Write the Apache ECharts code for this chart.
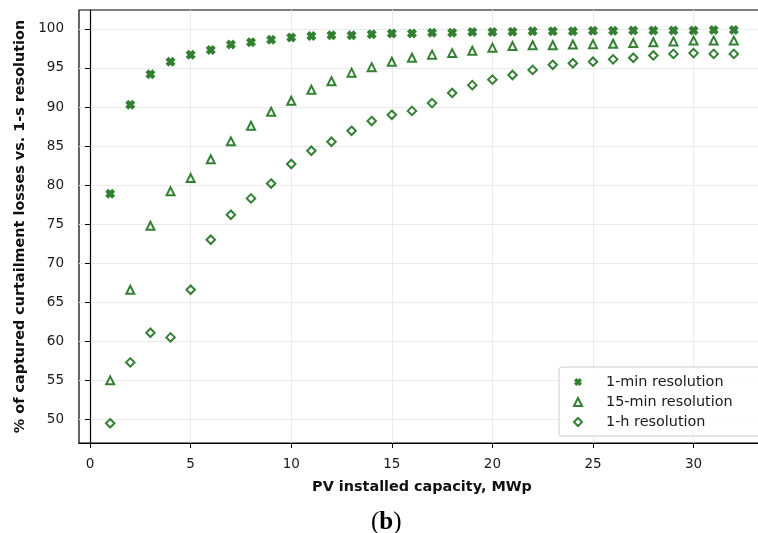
<!DOCTYPE html>
<html>
<head>
<meta charset="utf-8">
<script src="https://cdn.jsdelivr.net/npm/echarts@6/dist/echarts.min.js"></script>
<style>
  html, body { margin: 0; padding: 0; background: #fff; }
  #chart { width: 758px; height: 533px; }
</style>
</head>
<body>
<div id="chart"></div>
<script>
const capacity = [1, 2, 3, 4, 5, 6, 7, 8, 9, 10, 11, 12, 13, 14, 15, 16,
  17, 18, 19, 20, 21, 22, 23, 24, 25, 26, 27, 28, 29, 30, 31, 32]
const oneMin = [78.9, 90.3, 94.2, 95.8, 96.7, 97.3, 98.0, 98.3, 98.6, 98.9, 99.1, 99.2, 99.2, 99.3, 99.4, 99.4,
  99.5, 99.5, 99.6, 99.6, 99.65, 99.7, 99.7, 99.7, 99.75, 99.75, 99.8, 99.8, 99.8, 99.8, 99.85, 99.85]
const fifteenMin = [55.0, 66.6, 74.8, 79.2, 80.9, 83.3, 85.6, 87.6, 89.4, 90.8, 92.2, 93.3, 94.4, 95.1, 95.8, 96.3,
  96.7, 96.9, 97.2, 97.6, 97.8, 97.9, 97.9, 98.0, 98.05, 98.1, 98.2, 98.3, 98.4, 98.5, 98.5, 98.5]
const oneHour = [49.5, 57.3, 61.1, 60.5, 66.6, 73.0, 76.2, 78.3, 80.2, 82.7, 84.4, 85.55, 86.95, 88.2, 89.0, 89.5,
  90.5, 91.8, 92.8, 93.5, 94.1, 94.75, 95.4, 95.6, 95.8, 96.1, 96.3, 96.6, 96.8, 96.9, 96.8, 96.8]
const seriesNames = ['1-min resolution', '15-min resolution', '1-h resolution']
const xTicks = [0, 5, 10, 15, 20, 25, 30]
const yTicks = [50, 55, 60, 65, 70, 75, 80, 85, 90, 95, 100]

const green = '#006000'
const font = 'DejaVu Sans'
const xMark = 'path://M0,3L3,0L5,2L7,0L10,3L8,5L10,7L7,10L5,8L3,10L0,7L2,5Z'

const chart = echarts.init(document.getElementById('chart'), null, { renderer: 'canvas' })

const pairs = vals => capacity.map((c, i) => [c, vals[i]])

const axisCommon = {
  type: 'value',
  axisLine: { show: true, lineStyle: { color: '#000', width: 1.2 } },
  axisTick: { show: true, inside: false, length: 5, lineStyle: { color: '#000', width: 1 } },
  splitLine: { show: true, lineStyle: { color: '#ebebeb', width: 1 } },
  nameLocation: 'middle',
  nameTextStyle: { fontFamily: font, fontWeight: 'bold', fontSize: 14.4, color: '#111' }
}
const tickFont = { fontFamily: font, fontSize: 13.5, color: '#1a1a1a' }

chart.setOption({
  animation: false,
  backgroundColor: '#fff',
  grid: {
    left: 79, top: 10, width: 686, height: 433,
    outerBoundsMode: 'none',
    show: true, borderColor: '#000', borderWidth: 1.2, backgroundColor: '#fff'
  },
  xAxis: Object.assign({}, axisCommon, {
    min: -0.55,
    max: 33.55,
    name: 'PV installed capacity, MWp',
    nameGap: 37,
    axisTick: Object.assign({}, axisCommon.axisTick, { customValues: xTicks }),
    axisLabel: Object.assign({ customValues: xTicks, margin: 14 }, tickFont)
  }),
  yAxis: Object.assign({}, axisCommon, {
    min: 46.98,
    max: 102.42,
    name: '% of captured curtailment losses vs. 1-s resolution',
    nameGap: 51,
    axisTick: Object.assign({}, axisCommon.axisTick, { customValues: yTicks }),
    axisLabel: Object.assign({ customValues: yTicks, margin: 15 }, tickFont)
  }),
  legend: {
    orient: 'vertical',
    left: 559,
    top: 367,
    padding: [8, 60, 7, 14],
    itemWidth: 8,
    itemHeight: 8,
    itemGap: 6,
    borderColor: '#cccccc',
    borderWidth: 1,
    borderRadius: 3,
    backgroundColor: 'rgba(255,255,255,0.8)',
    textStyle: { fontFamily: font, fontSize: 14.4, lineHeight: 14, color: '#1a1a1a', padding: [0, 0, 0, 19] },
    data: seriesNames
  },
  series: [
    {
      name: seriesNames[0],
      type: 'scatter',
      symbol: xMark,
      symbolSize: 10,
      itemStyle: { color: green },
      data: pairs(oneMin)
    },
    {
      name: seriesNames[1],
      type: 'scatter',
      symbol: 'triangle',
      symbolSize: 8,
      itemStyle: { color: 'rgba(0,0,0,0)', borderColor: green, borderWidth: 2 },
      data: pairs(fifteenMin)
    },
    {
      name: seriesNames[2],
      type: 'scatter',
      symbol: 'diamond',
      symbolSize: 8.5,
      itemStyle: { color: 'rgba(0,0,0,0)', borderColor: green, borderWidth: 2 },
      data: pairs(oneHour)
    }
  ],
  graphic: [{
    type: 'text',
    left: 371,
    top: 510,
    style: {
      text: '({b|b})',
      font: '25px "Liberation Serif"',
      fill: '#000',
      rich: { b: { fontFamily: 'Liberation Serif', fontSize: 25, fontWeight: 'bold', fill: '#000' } }
    }
  }]
})
</script>
</body>
</html>
